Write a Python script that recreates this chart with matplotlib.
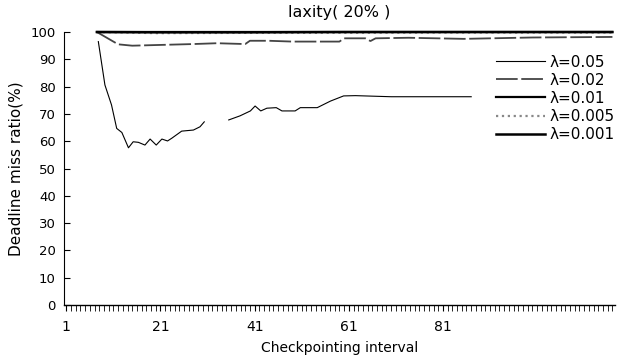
import numpy as np
import matplotlib.pyplot as plt

plt.rcParams['font.family'] = ['DejaVu Sans']

# λ=0.05 (big dip), NaN marks the hole in the drawn line
x_005 = [7.8, 9.2, 10.6, 11.7, 12.8, 14.2, 15.2, 16.3, 17.7, 18.8, 20.1, 21.3, 22.5, 23.4,
         25.5, 28, 29.4, 30.3, 33, 35.5, 37.9, 40.1, 41.1, 42.3, 43.6, 45.6, 46.8, 49.6,
         50.7, 54.3, 57.1, 59.9, 62.4, 70, 87]
y_005 = [96.5, 80.6, 73.3, 64.7, 63.2, 57.6, 59.8, 59.6, 58.6, 60.8, 58.6, 60.8, 60.1, 61.1,
         63.7, 64.1, 65.3, 67.1, np.nan, 67.8, 69.3, 71.1, 72.9, 71.1, 72.1, 72.3, 71.1, 71.1,
         72.3, 72.3, 74.7, 76.6, 76.7, 76.3, 76.3]

# λ=0.02
x_002 = [7.5, 12, 15, 28, 33, 39, 40, 44, 49, 59, 60, 64.5, 65.6, 66.7, 73.7, 85.4, 100, 117]
y_002 = [100, 95.5, 95.0, 95.6, 95.9, 95.6, 96.8, 96.8, 96.5, 96.5, 97.7, 97.7, 96.7, 97.7,
         97.9, 97.5, 98.0, 98.2]

# λ=0.01, 0.005, 0.001 (all close to 100)
x_top = [7.5, 20, 40, 60, 80, 100, 117]
y_001 = [100, 100, 100, 100, 100, 100, 100]
y_0005 = [100, 99.6, 99.7, 99.7, 99.8, 99.8, 99.8]
y_0001 = [100, 99.9, 99.9, 100, 100, 100, 100]

labels = ['λ=0.05', 'λ=0.02', 'λ=0.01', 'λ=0.005', 'λ=0.001']
xtick_labels = ['1', '21', '41', '61', '81']

fig = plt.figure(figsize=(6.21, 3.64), dpi=100)
ax = fig.add_axes([0.103, 0.162, 0.887, 0.75])

ax.plot(x_005, y_005, color='black', lw=0.8, label=labels[0], clip_on=False)
ax.plot(x_002, y_002, color='#444444', lw=1.3, dashes=(12, 2), label=labels[1], clip_on=False)
ax.plot(x_top, y_001, color='black', lw=1.6, label=labels[2], clip_on=False)
ax.plot(x_top, y_0005, color='#888888', lw=1.6, ls=':', label=labels[3], clip_on=False)
ax.plot(x_top, y_0001, color='black', lw=1.8, label=labels[4], clip_on=False)

ax.set_xlim(0.5, 117.5)
ax.set_ylim(0, 100)
ax.set_yticks(range(0, 101, 10))
ax.tick_params(axis='y', direction='in', length=4, labelsize=9.5, pad=6)
ax.set_xticks([1, 21, 41, 61, 81])
ax.set_xticklabels(xtick_labels)
ax.set_xticks(np.arange(1, 118), minor=True)
ax.tick_params(axis='x', which='both', direction='out', length=4, labelsize=10, pad=7)

for s in ['top', 'right']:
    ax.spines[s].set_visible(False)
ax.spines['left'].set_linewidth(0.8)
ax.spines['bottom'].set_linewidth(1.0)

ax.set_title('laxity( 20% )', fontsize=11.5, pad=11)
ax.set_xlabel('Checkpointing interval', fontsize=10, labelpad=5)
ax.set_ylabel('Deadline miss ratio(%)', fontsize=11, labelpad=5)

ax.legend(loc='upper left', bbox_to_anchor=(0.77, 0.945), frameon=False, fontsize=11,
          handlelength=3.2, handletextpad=0.3, labelspacing=0.2, borderpad=0)

fig.savefig('out.png', dpi=100)
